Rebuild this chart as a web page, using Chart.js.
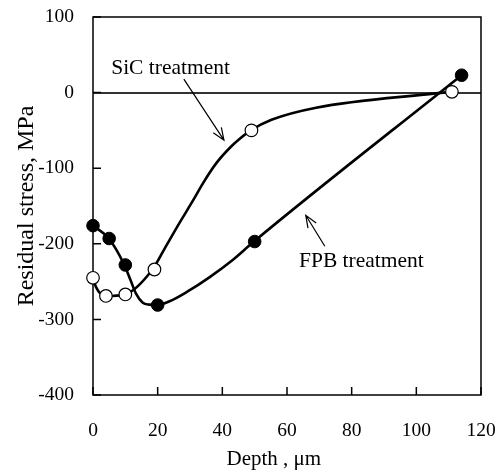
<!DOCTYPE html>
<html>
<head>
<meta charset="utf-8">
<script src="https://cdn.jsdelivr.net/npm/chart.js@4.4.1/dist/chart.umd.min.js"></script>
<style>
  body { margin: 0; background: #fff; }
  #wrap { width: 500px; height: 475px; }
</style>
</head>
<body>
<div id="wrap"><canvas id="chart" width="500" height="475"></canvas></div>
<script>
// measured points (markers)
const sicDepth = [0, 4, 10, 19, 49, 111];
const sicStress = [-245, -269, -267, -234, -50, 1];
const fpbDepth = [0, 5, 10, 20, 50, 114];
const fpbStress = [-176, -193, -228, -281, -197, 23];

// smoothed curves
const sicCurveDepth = [0, 0.9, 3.8, 9.8, 18.4, 22.2, 26.8, 30.9, 34, 38.2, 42.8, 45.4, 48.8, 55.2, 69, 106, 110.5];
const sicCurveStress = [-245, -257, -269, -267, -234, -206, -172, -143, -120, -93, -71, -61, -50, -36, -20, -1, 1];
const fpbCurveDepth = [0, 4.9, 9.7, 11.6, 13.3, 15.4, 17.4, 20, 23.7, 28.9, 36.1, 43.3, 49.5, 114];
const fpbCurveStress = [-176, -193, -228, -248, -266, -278, -280.5, -281, -276, -264, -244, -221, -198, 23];

const xTicks = [0, 20, 40, 60, 80, 100, 120];
const yTicks = [100, 0, -100, -200, -300, -400];

const serif = "'Liberation Serif', 'Times New Roman', serif";

const toXY = (xs, ys) => xs.map((x, i) => ({ x: x, y: ys[i] }));

// arrow drawn in data coordinates
function arrow(ctx, x, y, from, to) {
  const x0 = x.getPixelForValue(from[0]), y0 = y.getPixelForValue(from[1]);
  const x1 = x.getPixelForValue(to[0]), y1 = y.getPixelForValue(to[1]);
  const ang = Math.atan2(y1 - y0, x1 - x0);
  const len = 13, spread = 0.38;
  ctx.beginPath();
  ctx.moveTo(x0, y0);
  ctx.lineTo(x1, y1);
  ctx.moveTo(x1 - len * Math.cos(ang - spread), y1 - len * Math.sin(ang - spread));
  ctx.lineTo(x1, y1);
  ctx.lineTo(x1 - len * Math.cos(ang + spread), y1 - len * Math.sin(ang + spread));
  ctx.stroke();
}

const framePlugin = {
  id: 'frame',
  beforeDatasetsDraw(chart) {
    const { ctx, chartArea: a, scales: { x, y } } = chart;
    ctx.save();
    ctx.strokeStyle = '#000';
    ctx.lineWidth = 1.5;
    ctx.strokeRect(a.left, a.top, a.right - a.left, a.bottom - a.top);
    // inward tick marks
    ctx.beginPath();
    xTicks.forEach(v => {
      const px = x.getPixelForValue(v);
      ctx.moveTo(px, a.bottom);
      ctx.lineTo(px, a.bottom - 8);
    });
    yTicks.forEach(v => {
      const py = y.getPixelForValue(v);
      ctx.moveTo(a.left, py);
      ctx.lineTo(a.left + 8, py);
    });
    ctx.stroke();
    ctx.restore();
  },
  afterDraw(chart) {
    const { ctx, scales: { x, y } } = chart;
    ctx.save();
    ctx.fillStyle = '#000';
    ctx.strokeStyle = '#000';
    ctx.lineWidth = 1.2;
    ctx.font = "21.5px " + serif;
    ctx.textAlign = 'center';
    ctx.textBaseline = 'alphabetic';
    ctx.fillText('SiC treatment', x.getPixelForValue(24), y.getPixelForValue(24.6));
    ctx.fillText('FPB treatment', x.getPixelForValue(83), y.getPixelForValue(-230.3));
    arrow(ctx, x, y, [28.1, 17.9], [40.5, -62.9]);
    arrow(ctx, x, y, [71.7, -203.3], [65.8, -162.3]);
    ctx.restore();
  }
};

const ctx = document.getElementById('chart').getContext('2d');
new Chart(ctx, {
  type: 'scatter',
  data: {
    datasets: [
      {
        label: 'SiC',
        data: toXY(sicDepth, sicStress),
        showLine: false,
        pointRadius: 6.3,
        pointBackgroundColor: '#fff',
        pointBorderColor: '#000',
        pointBorderWidth: 1.2,
        clip: false
      },
      {
        label: 'FPB',
        data: toXY(fpbDepth, fpbStress),
        showLine: false,
        pointRadius: 6.3,
        pointBackgroundColor: '#000',
        pointBorderColor: '#000',
        pointBorderWidth: 1,
        clip: false
      },
      {
        label: 'SiC curve',
        data: toXY(sicCurveDepth, sicCurveStress),
        showLine: true,
        pointRadius: 0,
        borderColor: '#000',
        borderWidth: 2.6,
        cubicInterpolationMode: 'monotone',
        clip: false
      },
      {
        label: 'FPB curve',
        data: toXY(fpbCurveDepth, fpbCurveStress),
        showLine: true,
        pointRadius: 0,
        borderColor: '#000',
        borderWidth: 2.6,
        cubicInterpolationMode: 'monotone',
        clip: false
      }
    ]
  },
  options: {
    responsive: false,
    animation: false,
    devicePixelRatio: 1,
    layout: { padding: { top: 17, right: 19, left: 0, bottom: 0 } },
    plugins: {
      legend: { display: false },
      tooltip: { enabled: false }
    },
    scales: {
      x: {
        type: 'linear',
        min: 0,
        max: 120,
        afterBuildTicks: s => { s.ticks = xTicks.map(v => ({ value: v })); },
        afterFit: s => { s.height = 80; s.paddingLeft = 0; s.paddingRight = 0; },
        ticks: {
          color: '#000',
          padding: 24,
          maxRotation: 0,
          font: { family: serif, size: 19.5 }
        },
        grid: { display: false, drawTicks: false },
        border: { display: false },
        title: {
          display: true,
          text: 'Depth , μm\u00a0\u00a0\u00a0\u00a0\u00a0',
          color: '#000',
          padding: { top: 0, bottom: 3 },
          font: { family: serif, size: 21 }
        }
      },
      y: {
        type: 'linear',
        min: -400,
        max: 100,
        afterBuildTicks: s => { s.ticks = yTicks.map(v => ({ value: v })); },
        afterFit: s => { s.width = 93; s.paddingTop = 0; s.paddingBottom = 0; },
        ticks: {
          color: '#000',
          padding: 19,
          font: { family: serif, size: 19.5 }
        },
        grid: {
          drawTicks: false,
          color: c => (c.tick && c.tick.value === 0 ? '#333' : 'rgba(0,0,0,0)'),
          lineWidth: 2
        },
        border: { display: false },
        title: {
          display: true,
          text: 'Residual stress, MPa',
          color: '#000',
          padding: { top: 12, bottom: 0 },
          font: { family: serif, size: 24 }
        }
      }
    }
  },
  plugins: [framePlugin]
});
</script>
</body>
</html>
